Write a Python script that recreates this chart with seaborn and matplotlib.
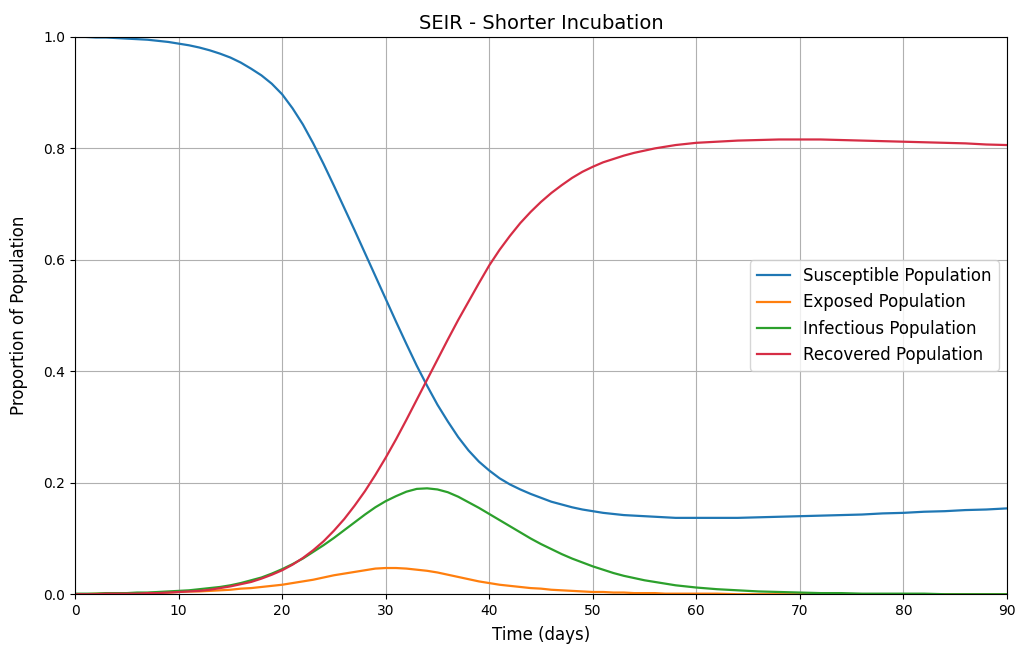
import numpy as np
import pandas as pd
import matplotlib
matplotlib.use("Agg")
import matplotlib.pyplot as plt
import seaborn as sns

# values: daily up to day 60, then every 2 days
days = list(range(0, 61)) + list(range(62, 91, 2))

susceptible = [1.000, 1.000, 0.999, 0.999, 0.998, 0.997, 0.996, 0.995, 0.993, 0.991,
               0.988, 0.985, 0.981, 0.976, 0.970, 0.963, 0.954, 0.943, 0.931, 0.916,
               0.897, 0.872, 0.843, 0.809, 0.772, 0.733, 0.693, 0.653, 0.612, 0.571,
               0.530, 0.489, 0.449, 0.410, 0.374, 0.340, 0.310, 0.282, 0.258, 0.238,
               0.222, 0.208, 0.197, 0.188, 0.180, 0.173, 0.166, 0.161, 0.156, 0.152,
               0.149, 0.146, 0.144, 0.142, 0.141, 0.140, 0.139, 0.138, 0.137, 0.137,
               0.137,
               0.137, 0.137, 0.138, 0.139, 0.140, 0.141, 0.142, 0.143, 0.145, 0.146,
               0.148, 0.149, 0.151, 0.152, 0.154]

exposed = [0.000, 0.000, 0.001, 0.001, 0.001, 0.001, 0.002, 0.002, 0.003, 0.003,
           0.004, 0.005, 0.005, 0.006, 0.007, 0.008, 0.010, 0.011, 0.013, 0.015,
           0.017, 0.020, 0.023, 0.026, 0.030, 0.034, 0.037, 0.040, 0.043, 0.046,
           0.047, 0.047, 0.046, 0.044, 0.042, 0.039, 0.035, 0.031, 0.027, 0.023,
           0.020, 0.017, 0.015, 0.013, 0.011, 0.010, 0.008, 0.007, 0.006, 0.005,
           0.004, 0.004, 0.003, 0.003, 0.002, 0.002, 0.002, 0.001, 0.001, 0.001,
           0.001,
           0.001, 0.000, 0.000, 0.000, 0.000, 0.000, 0.000, 0.000, 0.000, 0.000,
           0.000, 0.000, 0.000, 0.000, 0.000]

infectious = [0.001, 0.001, 0.001, 0.002, 0.002, 0.002, 0.003, 0.003, 0.004, 0.005,
              0.006, 0.007, 0.009, 0.011, 0.013, 0.016, 0.020, 0.025, 0.030, 0.037,
              0.045, 0.054, 0.064, 0.076, 0.088, 0.101, 0.115, 0.129, 0.143, 0.156,
              0.167, 0.176, 0.184, 0.189, 0.190, 0.188, 0.183, 0.175, 0.165, 0.155,
              0.144, 0.133, 0.122, 0.111, 0.100, 0.090, 0.081, 0.072, 0.064, 0.057,
              0.050, 0.044, 0.038, 0.033, 0.029, 0.025, 0.022, 0.019, 0.016, 0.014,
              0.012,
              0.009, 0.007, 0.005, 0.004, 0.003, 0.002, 0.002, 0.001, 0.001, 0.001,
              0.001, 0.000, 0.000, 0.000, 0.000]

recovered = [0.000, 0.000, 0.000, 0.001, 0.001, 0.001, 0.001, 0.002, 0.002, 0.003,
             0.004, 0.005, 0.006, 0.008, 0.011, 0.014, 0.018, 0.022, 0.028, 0.035,
             0.043, 0.053, 0.065, 0.079, 0.095, 0.114, 0.135, 0.159, 0.185, 0.214,
             0.245, 0.278, 0.313, 0.349, 0.385, 0.421, 0.457, 0.492, 0.525, 0.558,
             0.590, 0.618, 0.643, 0.666, 0.686, 0.704, 0.720, 0.734, 0.747, 0.758,
             0.767, 0.775, 0.781, 0.787, 0.792, 0.796, 0.800, 0.803, 0.806, 0.808,
             0.810,
             0.812, 0.814, 0.815, 0.816, 0.816, 0.816, 0.815, 0.814, 0.813, 0.812,
             0.811, 0.810, 0.809, 0.807, 0.806]

labels = ["Susceptible Population", "Exposed Population",
          "Infectious Population", "Recovered Population"]
colors = ["#1f77b4", "#ff7f0e", "#2ca02c", "#d62d45"]

df = pd.DataFrame({"Time": days * 4,
                   "Proportion": susceptible + exposed + infectious + recovered,
                   "Compartment": np.repeat(labels, len(days))})

fig, ax = plt.subplots(figsize=(10.15, 6.48), dpi=100)
sns.lineplot(data=df, x="Time", y="Proportion", hue="Compartment",
             hue_order=labels, palette=colors, linewidth=1.6, ax=ax)

ax.set_xlim(0, 90)
ax.set_ylim(0, 1)
ax.set_title("SEIR - Shorter Incubation", fontsize=14)
ax.set_xlabel("Time (days)", fontsize=12, labelpad=6)
ax.set_ylabel("Proportion of Population", fontsize=12, labelpad=11)
ax.tick_params(labelsize=10)
ax.grid(True)
ax.legend(loc="center right", title=None, fontsize=12)

fig.subplots_adjust(left=0.074, right=0.992, top=0.943, bottom=0.083)
fig.savefig("out.png", dpi=100)
